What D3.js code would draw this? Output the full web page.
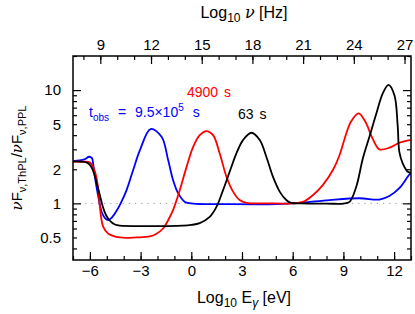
<!DOCTYPE html>
<html>
<head>
<meta charset="utf-8">
<script src="https://cdn.jsdelivr.net/npm/d3@7"></script>
<style>
  body { margin: 0; background: #fff; }
  text { font-family: "Liberation Sans", Arial, sans-serif; }
</style>
</head>
<body>
<svg width="415" height="314"></svg>
<script>
const width = 415
const height = 314

// log10 E [eV] vs flux ratio
const black63 = [
  [-7, 2.34], [-6.6, 2.34], [-6.17, 2.29], [-5.94, 2.13], [-5.76, 1.85], [-5.6, 1.51],
  [-5.41, 1.18], [-5.23, 0.93], [-5.05, 0.79], [-4.81, 0.70], [-4.52, 0.65], [-4.22, 0.635],
  [-3, 0.63], [-1.5, 0.63], [-0.5, 0.635], [0.0, 0.645], [0.5, 0.67], [1.09, 0.76],
  [1.49, 0.93], [1.88, 1.31], [2.27, 1.9], [2.67, 2.76], [3.06, 3.62], [3.56, 4.2],
  [4.05, 3.62], [4.44, 2.58], [4.83, 1.72], [5.23, 1.27], [5.62, 1.07], [5.9, 1.01],
  [6.5, 1.0], [8, 0.995], [9.0, 0.995], [9.36, 1.03], [9.76, 1.4], [10.15, 2.49],
  [10.54, 3.87], [10.94, 6.15], [11.33, 9.35], [11.67, 11.1], [12.02, 9.0], [12.21, 4.9],
  [12.31, 2.85], [12.51, 2.25], [12.81, 1.9], [13, 1.86]
]

const red4900 = [
  [-7, 2.34], [-6.5, 2.33], [-6.0, 2.3], [-5.7, 1.9], [-5.5, 1.31], [-5.41, 0.93],
  [-5.21, 0.62], [-4.91, 0.54], [-4.22, 0.5], [-3.24, 0.5], [-2.45, 0.51], [-2.06, 0.54],
  [-1.67, 0.6], [-1.37, 0.71], [-1.08, 0.87], [-0.68, 1.31], [-0.28, 2.1], [0.11, 3.16],
  [0.5, 4.0], [0.9, 4.35], [1.29, 4.0], [1.68, 2.76], [2.08, 1.72], [2.47, 1.27],
  [2.86, 1.07], [3.26, 1.01], [4.5, 1.0], [6.01, 1.0], [6.6, 1.03], [7.19, 1.18],
  [7.78, 1.45], [8.38, 1.97], [8.77, 2.66], [9.17, 4.14], [9.46, 5.3], [9.9, 6.22],
  [10.3, 5.25], [10.72, 3.75], [11.13, 3.0], [11.72, 3.1], [12.31, 3.43], [13, 3.64]
]

const blue95e5 = [
  [-7, 2.36], [-6.6, 2.39], [-6.29, 2.46], [-6.05, 2.58], [-5.88, 2.51], [-5.8, 2.2],
  [-5.7, 1.7], [-5.52, 1.18], [-5.3, 0.84], [-5.11, 0.74], [-4.91, 0.71], [-4.7, 0.75],
  [-4.42, 0.86], [-4.18, 1.0], [-3.83, 1.31], [-3.44, 1.97], [-3.04, 2.95], [-2.41, 4.53],
  [-1.76, 3.87], [-1.37, 2.41], [-1.08, 1.61], [-0.78, 1.23], [-0.38, 1.03], [0.11, 0.995],
  [2, 0.985], [5, 0.985], [6.41, 1.01], [8.18, 1.07], [9.95, 1.11], [11.13, 1.08],
  [11.72, 1.16], [12.31, 1.36], [12.9, 1.79], [13, 1.84]
]

const series = [
  { data: blue95e5, color: '#0000ff' },
  { data: red4900, color: '#ff0000' },
  { data: black63, color: '#000000' }
]

const xTicksMajor = [-6, -3, 0, 3, 6, 9, 12]
const nuTicksMajor = [9, 12, 15, 18, 21, 24, 27]
const yTickLabels = [0.5, 1, 2, 5, 10]
const yTicksMajor = [1, 10]
const yTicksMinor = [0.4, 0.5, 0.6, 0.7, 0.8, 0.9, 2, 3, 4, 5, 6, 7, 8, 9, 20]

const nuOffset = Math.log10(2.418e14) // log10(Hz per eV)

const m = { left: 73, right: 411, top: 56, bottom: 260 }

const x = d3.scaleLinear().domain([-7, 13]).range([m.left, m.right])
const xNu = d3.scaleLinear().domain([-7 + nuOffset, 13 + nuOffset]).range([m.left, m.right])
const y = d3.scaleLog().domain([Math.pow(10, -0.5), 20]).range([m.bottom, m.top])

const svg = d3.select('svg')

// reference line at ratio 1
svg.append('line')
  .attr('x1', m.left).attr('x2', m.right)
  .attr('y1', y(1)).attr('y2', y(1))
  .attr('stroke', '#999')
  .attr('stroke-width', 1)
  .attr('stroke-dasharray', '1.2 5')

const line = d3.line()
  .x(d => x(d[0]))
  .y(d => y(d[1]))
  .curve(d3.curveCatmullRom.alpha(0.5))

svg.append('defs').append('clipPath').attr('id', 'clip')
  .append('rect').attr('x', m.left).attr('y', m.top)
  .attr('width', m.right - m.left).attr('height', m.bottom - m.top)

series.forEach(s => {
  svg.append('path')
    .datum(s.data)
    .attr('clip-path', 'url(#clip)')
    .attr('fill', 'none')
    .attr('stroke', s.color)
    .attr('stroke-width', 1.8)
    .attr('d', line)
})

// axes, ticks point inward
function styleAxis(g) {
  g.select('.domain').remove()
  g.selectAll('.tick line').attr('stroke', '#000').attr('stroke-width', 1.2)
  g.selectAll('.tick text').attr('fill', '#000').style('font-size', '15px')
  return g
}

const xMinor = d3.range(-7, 14, 1)
const nuMinor = d3.range(8, 28, 1)

svg.append('g').attr('transform', `translate(0,${m.bottom})`)
  .call(d3.axisBottom(x).tickValues(xMinor).tickSize(-4).tickFormat(''))
  .call(styleAxis)
svg.append('g').attr('transform', `translate(0,${m.bottom})`)
  .call(d3.axisBottom(x).tickValues(xTicksMajor).tickSize(-8).tickPadding(5)
    .tickFormat(d => d < 0 ? '\u2212' + Math.abs(d) : d))
  .call(styleAxis)

svg.append('g').attr('transform', `translate(0,${m.top})`)
  .call(d3.axisTop(xNu).tickValues(nuMinor).tickSize(-4).tickFormat(''))
  .call(styleAxis)
svg.append('g').attr('transform', `translate(0,${m.top})`)
  .call(d3.axisTop(xNu).tickValues(nuTicksMajor).tickSize(-8).tickPadding(6))
  .call(styleAxis)

svg.append('g').attr('transform', `translate(${m.left},0)`)
  .call(d3.axisLeft(y).tickValues(yTicksMinor).tickSize(-4).tickFormat(''))
  .call(styleAxis)
svg.append('g').attr('transform', `translate(${m.left},0)`)
  .call(d3.axisLeft(y).tickValues(yTicksMajor).tickSize(-8).tickFormat(''))
  .call(styleAxis)
svg.append('g').attr('transform', `translate(${m.left},0)`)
  .call(d3.axisLeft(y).tickValues(yTickLabels).tickSize(0).tickPadding(12).tickFormat(d => d))
  .call(styleAxis)

svg.append('g').attr('transform', `translate(${m.right},0)`)
  .call(d3.axisRight(y).tickValues(yTicksMinor).tickSize(-4).tickFormat(''))
  .call(styleAxis)
svg.append('g').attr('transform', `translate(${m.right},0)`)
  .call(d3.axisRight(y).tickValues(yTicksMajor).tickSize(-8).tickFormat(''))
  .call(styleAxis)

svg.append('rect')
  .attr('x', m.left).attr('y', m.top)
  .attr('width', m.right - m.left).attr('height', m.bottom - m.top)
  .attr('fill', 'none').attr('stroke', '#000').attr('stroke-width', 1.5)

// axis titles
const topTitle = svg.append('text')
  .attr('x', (m.left + m.right) / 2 + 2).attr('y', 18)
  .attr('text-anchor', 'middle').style('font-size', '16px')
topTitle.append('tspan').text('Log')
topTitle.append('tspan').attr('dy', 4).style('font-size', '12px').text('10')
topTitle.append('tspan').attr('dy', -4).text(' ')
topTitle.append('tspan').style('font-style', 'italic').style('font-family', '"DejaVu Serif", serif').text('\u03bd')
topTitle.append('tspan').text(' [Hz]')

const botTitle = svg.append('text')
  .attr('x', (m.left + m.right) / 2 + 2).attr('y', 303)
  .attr('text-anchor', 'middle').style('font-size', '16px')
botTitle.append('tspan').text('Log')
botTitle.append('tspan').attr('dy', 4).style('font-size', '12px').text('10')
botTitle.append('tspan').attr('dy', -4).text(' E')
botTitle.append('tspan').attr('dy', 4).style('font-size', '12px').style('font-style', 'italic').text('\u03b3')
botTitle.append('tspan').attr('dy', -4).text(' [eV]')

const yTitle = svg.append('text')
  .attr('transform', `translate(22,${(m.top + m.bottom) / 2}) rotate(-90)`)
  .attr('text-anchor', 'middle').style('font-size', '15px')
yTitle.append('tspan').style('font-style', 'italic').style('font-family', '"DejaVu Serif", serif').text('\u03bd')
yTitle.append('tspan').text('F')
yTitle.append('tspan').attr('dy', 4).style('font-size', '11px').text('\u03bd,ThPL')
yTitle.append('tspan').attr('dy', -4).text('/')
yTitle.append('tspan').style('font-style', 'italic').style('font-family', '"DejaVu Serif", serif').text('\u03bd')
yTitle.append('tspan').text('F')
yTitle.append('tspan').attr('dy', 4).style('font-size', '11px').text('\u03bd,PPL')

// curve labels
svg.append('text').attr('x', 187).attr('y', 97)
  .attr('fill', '#ff0000').style('font-size', '14px').style('word-spacing', '2px').text('4900 s')
svg.append('text').attr('x', 238).attr('y', 119)
  .attr('fill', '#000').style('font-size', '14px').style('word-spacing', '2px').text('63 s')

const tLabel = svg.append('text').attr('x', 89).attr('y', 117)
  .attr('fill', '#0000ff').style('font-size', '14px').style('word-spacing', '5px')
tLabel.append('tspan').text('t')
tLabel.append('tspan').attr('dy', 4).style('font-size', '10px').text('obs')
tLabel.append('tspan').attr('dy', -4).text(' = 9.5\u00d710')
tLabel.append('tspan').attr('dy', -6).style('font-size', '10px').text('5')
tLabel.append('tspan').attr('dy', 6).text(' s')
</script>
</body>
</html>
